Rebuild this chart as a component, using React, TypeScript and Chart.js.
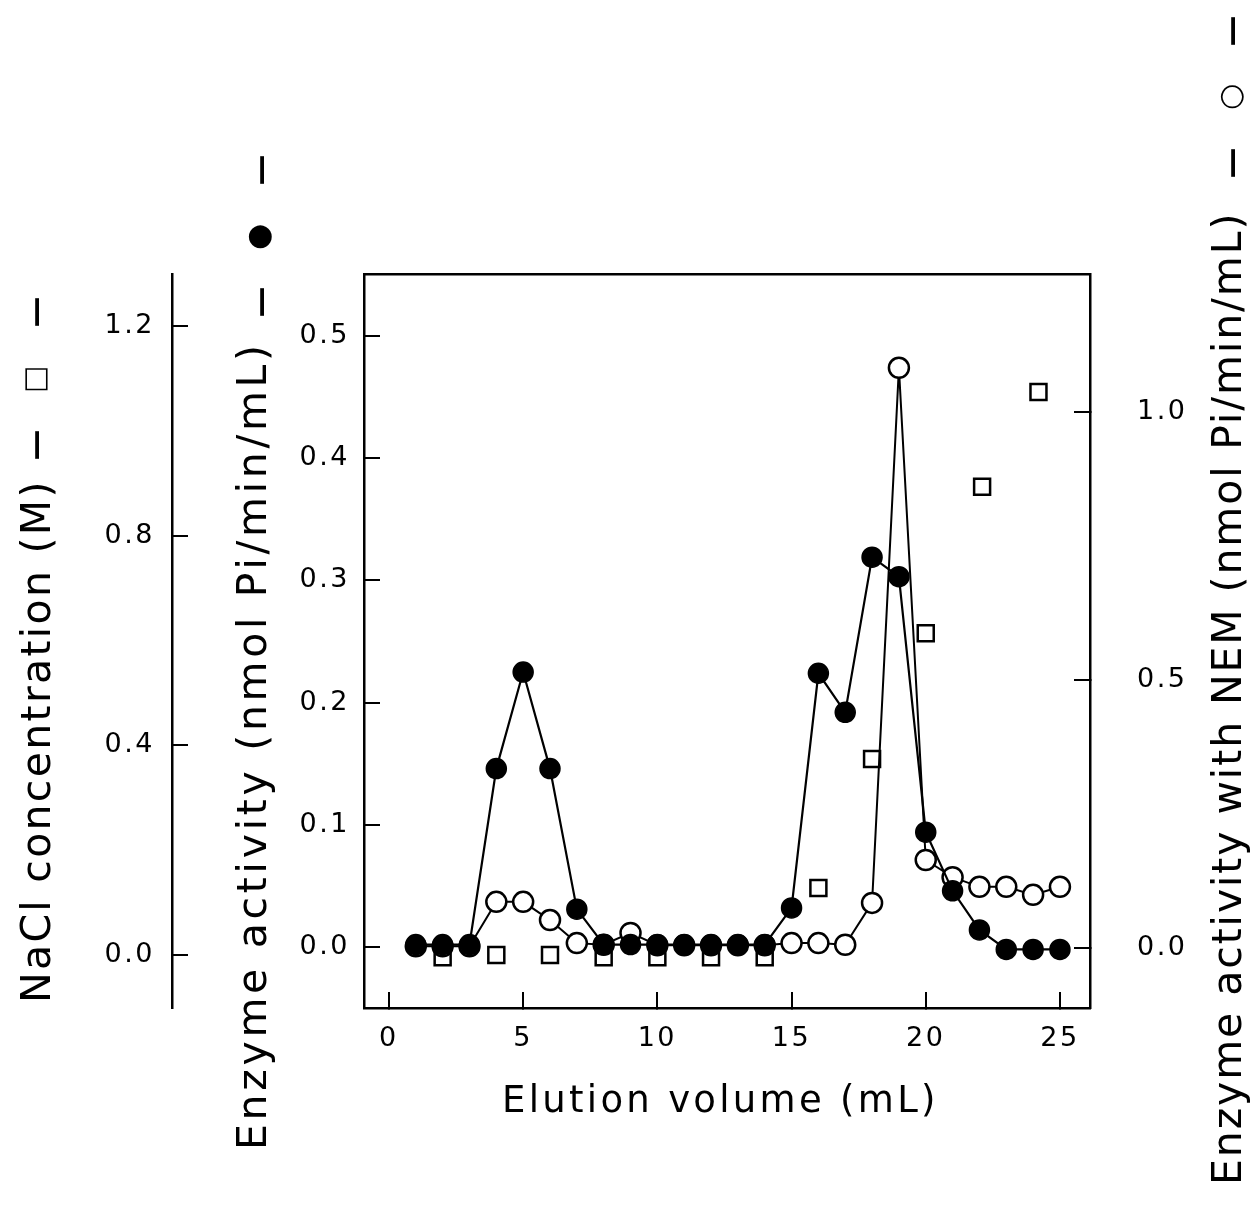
import React, { useEffect, useRef } from 'react';
import { Chart, registerables } from 'chart.js';

Chart.register(...registerables);

// ---- data ----
const volume = [1, 2, 3, 4, 5, 6, 7, 8, 9, 10, 11, 12, 13, 14, 15, 16, 17, 18, 19, 20, 21, 22, 23, 24, 25];
const activity = [0.002, 0.002, 0.002, 0.146, 0.225, 0.146, 0.031, 0.002, 0.002, 0.002, 0.002, 0.002, 0.002, 0.002, 0.032, 0.224, 0.192, 0.319, 0.303, 0.094, 0.046, 0.014, -0.002, -0.002, -0.002];
const nemActivity = [0.003, 0.003, 0.003, 0.086, 0.086, 0.052, 0.009, 0.006, 0.028, 0.005, 0.005, 0.005, 0.005, 0.005, 0.009, 0.009, 0.006, 0.084, 1.082, 0.164, 0.132, 0.114, 0.114, 0.099, 0.114];
const naclVolume = [2, 4, 6, 8, 10, 12, 14, 16, 18, 20, 22.1, 24.2];
const nacl = [-0.004, 0.0, 0.0, -0.004, -0.004, -0.004, -0.004, 0.128, 0.374, 0.614, 0.893, 1.074];

const xTicks = [0, 5, 10, 15, 20, 25];
const activityTicks = [0, 0.1, 0.2, 0.3, 0.4, 0.5];
const nemTicks = [0, 0.5, 1.0];
const naclTicks = [0, 0.4, 0.8, 1.2];

const xTitle = 'Elution volume (mL)';
const activityTitle = 'Enzyme activity (nmol Pi/min/mL)';
const nemTitle = 'Enzyme activity with NEM (nmol Pi/min/mL)';
const naclTitle = 'NaCl concentration (M)';
const dashGlyph = '\u2014';
const activitySymbol = '\u25CF';
const nemSymbol = '\u25CB';
const naclSymbol = '\u25A1';

const FONT = '"DejaVu Sans", "Liberation Sans", sans-serif';

const titlePlugin = {
  id: 'customTitles',
  beforeDraw(chart: any) {
    (chart.ctx as any).letterSpacing = '2.5px';
  },
  afterDraw(chart: any) {
    const ctx = chart.ctx as any;
    ctx.save();
    ctx.fillStyle = '#000';
    ctx.textBaseline = 'alphabetic';
    ctx.textAlign = 'left';
    ctx.letterSpacing = '3.3px';
    ctx.font = `37px ${FONT}`;
    ctx.fillText(xTitle, 502, 1112);

    const vt = (text: string, x: number, y: number, font: string, spacing: string, align: string, baseline: string) => {
      ctx.save();
      ctx.font = font;
      ctx.letterSpacing = spacing;
      ctx.textAlign = align;
      ctx.textBaseline = baseline;
      ctx.translate(x, y);
      ctx.rotate(-Math.PI / 2);
      ctx.fillText(text, 0, 0);
      ctx.restore();
    };
    const titleFont = `41px ${FONT}`;
    const dashFont = `bold 31px ${FONT}`;
    const symFont = `30px ${FONT}`;
    const sqFont = `29px ${FONT}`;

    // NaCl title (far left)
    vt(naclTitle, 50, 1003, titleFont, '2.3px', 'left', 'alphabetic');
    vt(dashGlyph, 37, 445, dashFont, '0px', 'center', 'middle');
    vt(naclSymbol, 36, 379, sqFont, '0px', 'center', 'middle');
    vt(dashGlyph, 37, 312, dashFont, '0px', 'center', 'middle');

    // Enzyme activity title
    vt(activityTitle, 266, 1150, titleFont, '3.7px', 'left', 'alphabetic');
    vt(dashGlyph, 262, 302, dashFont, '0px', 'center', 'middle');
    vt(activitySymbol, 260, 237, symFont, '0px', 'center', 'middle');
    vt(dashGlyph, 262, 170, dashFont, '0px', 'center', 'middle');

    // NEM title (right)
    vt(nemTitle, 1241, 1185, titleFont, '1.9px', 'left', 'alphabetic');
    vt(dashGlyph, 1233, 163, dashFont, '0px', 'center', 'middle');
    vt(nemSymbol, 1232, 97, symFont, '0px', 'center', 'middle');
    vt(dashGlyph, 1233, 31, dashFont, '0px', 'center', 'middle');
    ctx.restore();
  },
};

const tickFont = { family: FONT, size: 27 };
const gridInward = {
  display: true,
  drawOnChartArea: false,
  drawTicks: true,
  tickLength: -16,
  color: '#000',
  lineWidth: 2,
};
const borderOpts = { display: true, color: '#000', width: 2.5 };

export default function App() {
  const ref = useRef<HTMLCanvasElement | null>(null);

  useEffect(() => {
    if (!ref.current) return;
    const chart = new Chart(ref.current, {
      type: 'line',
      data: {
        datasets: [
          {
            label: 'Enzyme activity',
            data: volume.map((v, i) => ({ x: v, y: activity[i] })),
            yAxisID: 'y',
            borderColor: '#000',
            borderWidth: 2.2,
            backgroundColor: '#000',
            pointBackgroundColor: '#000',
            pointBorderColor: '#000',
            pointBorderWidth: 1.5,
            pointRadius: 10,
            pointStyle: 'circle',
            tension: 0,
          },
          {
            label: 'Enzyme activity with NEM',
            data: volume.map((v, i) => ({ x: v, y: nemActivity[i] })),
            yAxisID: 'y2',
            borderColor: '#000',
            borderWidth: 2,
            backgroundColor: '#fff',
            pointBackgroundColor: '#fff',
            pointBorderColor: '#000',
            pointBorderWidth: 2.5,
            pointRadius: 10,
            pointStyle: 'circle',
            tension: 0,
          },
          {
            label: 'NaCl concentration',
            data: naclVolume.map((v, i) => ({ x: v, y: nacl[i] })),
            yAxisID: 'yNacl',
            showLine: false,
            borderColor: '#000',
            backgroundColor: '#fff',
            pointBackgroundColor: '#fff',
            pointBorderColor: '#000',
            pointBorderWidth: 2.5,
            pointRadius: 11.3,
            pointStyle: 'rect',
          },
        ],
      },
      options: {
        animation: false,
        responsive: false,
        devicePixelRatio: 1,
        layout: { padding: 0 },
        plugins: {
          legend: { display: false },
          tooltip: { enabled: false },
          title: { display: false },
        },
        scales: {
          x: {
            type: 'linear',
            position: 'bottom',
            min: -0.93,
            max: 26.12,
            afterBuildTicks: (s: any) => { s.ticks = xTicks.map((v) => ({ value: v })); },
            afterFit: (s: any) => { s.height = 209; },
            ticks: { font: tickFont, color: '#000', padding: 31, maxRotation: 0, callback: (v: any) => String(v) },
            grid: gridInward,
            border: borderOpts,
          },
          xTop: {
            type: 'linear',
            position: 'top',
            min: -0.93,
            max: 26.12,
            afterFit: (s: any) => { s.height = 274; },
            ticks: { display: false },
            grid: { display: true, drawOnChartArea: false, drawTicks: false },
            border: borderOpts,
          },
          y: {
            type: 'linear',
            position: 'left',
            weight: 0,
            min: -0.0499,
            max: 0.5507,
            afterBuildTicks: (s: any) => { s.ticks = activityTicks.map((v) => ({ value: v })); },
            afterFit: (s: any) => { s.width = 192; },
            ticks: { font: tickFont, color: '#000', padding: 30, callback: (v: any) => Number(v).toFixed(1) },
            grid: gridInward,
            border: borderOpts,
          },
          yNacl: {
            type: 'linear',
            position: 'left',
            weight: 1,
            min: -0.101,
            max: 1.299,
            afterBuildTicks: (s: any) => { s.ticks = naclTicks.map((v) => ({ value: v })); },
            afterFit: (s: any) => { s.width = 172; },
            ticks: { font: tickFont, color: '#000', padding: 33, callback: (v: any) => Number(v).toFixed(1) },
            grid: gridInward,
            border: borderOpts,
          },
          y2: {
            type: 'linear',
            position: 'right',
            min: -0.112,
            max: 1.257,
            afterBuildTicks: (s: any) => { s.ticks = nemTicks.map((v) => ({ value: v })); },
            afterFit: (s: any) => { s.width = 167; },
            ticks: { font: tickFont, color: '#000', padding: 63, callback: (v: any) => Number(v).toFixed(1) },
            grid: gridInward,
            border: borderOpts,
          },
        },
      } as any,
      plugins: [titlePlugin],
    });
    return () => chart.destroy();
  }, []);

  return (
    <div style={{ position: 'absolute', left: 0, top: 0, width: 1257, height: 1217, background: '#fff' }}>
      <canvas ref={ref} width={1257} height={1217} style={{ width: 1257, height: 1217, display: 'block' }} />
    </div>
  );
}
